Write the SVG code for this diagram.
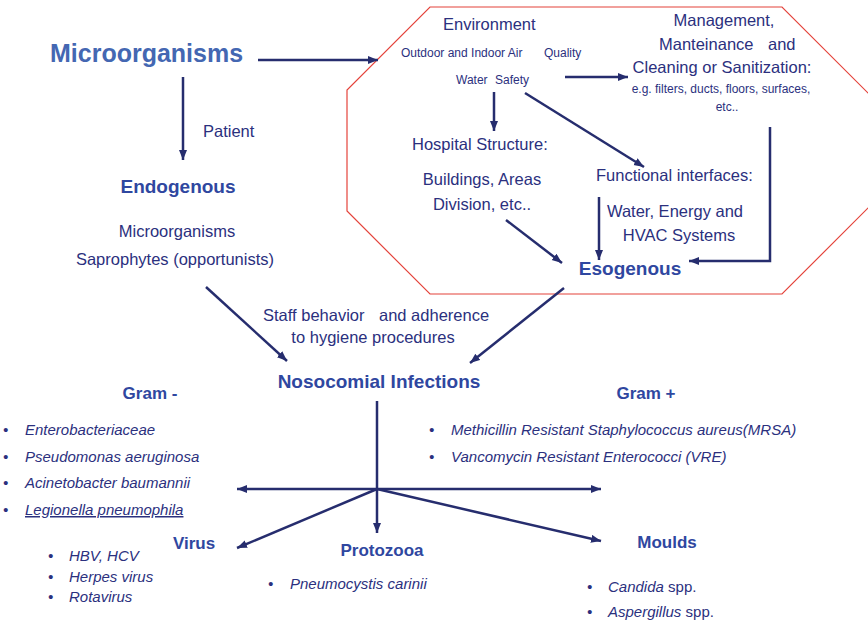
<svg xmlns="http://www.w3.org/2000/svg" width="868" height="626" viewBox="0 0 868 626">
<defs>
<marker id="ah" markerUnits="userSpaceOnUse" markerWidth="11" markerHeight="9" refX="10" refY="4" orient="auto">
<path d="M0,0 L10,4 L0,8 z" fill="#262D6E"/>
</marker>
<style>
text{font-family:"Liberation Sans",Arial,sans-serif;fill:#2B307E}
.t{font-weight:bold;fill:#4467B2;font-size:25px}
.h{font-weight:bold;fill:#2F47A0;font-size:19px}
.g{font-weight:bold;fill:#2F47A0;font-size:17px}
.r{font-size:16.5px}
.s{font-size:12px}
.i{font-size:15px;font-style:italic}
.n{font-size:15px;font-style:normal}
.c{fill:none;stroke:#262D6E;stroke-width:2.5;marker-end:url(#ah)}
</style>
</defs>
<rect width="868" height="626" fill="#fff"/>
<polygon id="env-box" points="430,7 782,7 870,95 870,206 782,294 430,294 347,211 347,90" fill="none" stroke="#E4433B" stroke-width="1.2"/>
<g id="connectors">
<line class="c" x1="258" y1="60" x2="378" y2="60"/>
<line class="c" x1="183" y1="77" x2="183" y2="160"/>
<line class="c" x1="565" y1="77" x2="628" y2="77"/>
<line class="c" x1="494" y1="92" x2="494" y2="131"/>
<line class="c" x1="525" y1="93" x2="644" y2="167"/>
<polyline class="c" points="770,127 770,261 689,261"/>
<line class="c" x1="506" y1="220" x2="562" y2="263"/>
<line class="c" x1="599" y1="197" x2="599" y2="260"/>
<line class="c" x1="206" y1="287" x2="287" y2="361"/>
<line class="c" x1="564" y1="288" x2="470" y2="363"/>
<line class="c" x1="377" y1="401" x2="377" y2="533"/>
<line class="c" x1="377" y1="489" x2="237" y2="489"/>
<line class="c" x1="377" y1="489" x2="601" y2="489"/>
<line class="c" x1="377" y1="489" x2="237" y2="548"/>
<line class="c" x1="377" y1="489" x2="601" y2="541"/>
</g>
<g id="microorganisms"><text class="t" x="50" y="62">Microorganisms</text></g>
<g id="patient"><text class="r" x="203" y="137">Patient</text></g>
<g id="endogenous">
<text class="h" x="178" y="193" text-anchor="middle">Endogenous</text>
<text class="r" x="177" y="237" text-anchor="middle">Microorganisms</text>
<text class="r" x="175" y="265" text-anchor="middle">Saprophytes (opportunists)</text>
</g>
<g id="environment">
<text class="r" x="443" y="30">Environment</text>
<text class="s" x="401" y="57">Outdoor and Indoor Air</text>
<text class="s" x="544" y="57">Quality</text>
<text class="s" x="456" y="84">Water</text>
<text class="s" x="495" y="84">Safety</text>
</g>
<g id="management">
<text class="r" x="724" y="26" text-anchor="middle">Management,</text>
<text class="r" x="659" y="50">Manteinance</text>
<text class="r" x="768" y="50">and</text>
<text class="r" x="722" y="73" text-anchor="middle">Cleaning or Sanitization:</text>
<text class="s" x="721" y="93" text-anchor="middle">e.g. filters, ducts, floors, surfaces,</text>
<text class="s" x="727" y="111" text-anchor="middle">etc..</text>
</g>
<g id="hospital-structure">
<text class="r" x="412" y="150">Hospital Structure:</text>
<text class="r" x="482" y="185" text-anchor="middle">Buildings, Areas</text>
<text class="r" x="482" y="210" text-anchor="middle">Division, etc..</text>
</g>
<g id="functional-interfaces">
<text class="r" x="596" y="181">Functional interfaces:</text>
<text class="r" x="675" y="217" text-anchor="middle">Water, Energy and</text>
<text class="r" x="679" y="241" text-anchor="middle">HVAC Systems</text>
</g>
<g id="esogenous"><text class="h" x="630" y="275" text-anchor="middle">Esogenous</text></g>
<g id="staff">
<text class="r" x="263" y="321">Staff behavior</text>
<text class="r" x="379" y="321">and adherence</text>
<text class="r" x="373" y="343" text-anchor="middle">to hygiene procedures</text>
</g>
<g id="nosocomial"><text class="h" x="379" y="388" text-anchor="middle">Nosocomial Infections</text></g>
<g id="gram-neg">
<text class="g" x="150" y="399" text-anchor="middle">Gram -</text>
<text class="i" x="3" y="435">•</text><text class="i" x="25" y="435">Enterobacteriaceae</text>
<text class="i" x="3" y="462">•</text><text class="i" x="25" y="462">Pseudomonas aeruginosa</text>
<text class="i" x="3" y="488">•</text><text class="i" x="25" y="488">Acinetobacter baumannii</text>
<text class="i" x="3" y="515">•</text><text class="i" x="25" y="515" text-decoration="underline">Legionella pneumophila</text>
</g>
<g id="gram-pos">
<text class="g" x="646" y="399" text-anchor="middle">Gram +</text>
<text class="i" x="429" y="435">•</text><text class="i" x="451" y="435">Methicillin Resistant Staphylococcus aureus(MRSA)</text>
<text class="i" x="429" y="462">•</text><text class="i" x="451" y="462">Vancomycin Resistant Enterococci (VRE)</text>
</g>
<g id="virus">
<text class="g" x="173" y="549">Virus</text>
<text class="i" x="48" y="561">•</text><text class="i" x="69" y="561">HBV, HCV</text>
<text class="i" x="48" y="582">•</text><text class="i" x="69" y="582">Herpes virus</text>
<text class="i" x="48" y="602">•</text><text class="i" x="69" y="602">Rotavirus</text>
</g>
<g id="protozooa">
<text class="g" x="382" y="556" text-anchor="middle">Protozooa</text>
<text class="i" x="268" y="589">•</text><text class="i" x="290" y="589">Pneumocystis carinii</text>
</g>
<g id="moulds">
<text class="g" x="667" y="548" text-anchor="middle">Moulds</text>
<text class="i" x="587" y="592">•</text><text class="i" x="608" y="592">Candida<tspan class="n"> spp.</tspan></text>
<text class="i" x="587" y="617">•</text><text class="i" x="608" y="617">Aspergillus<tspan class="n"> spp.</tspan></text>
</g>
</svg>
